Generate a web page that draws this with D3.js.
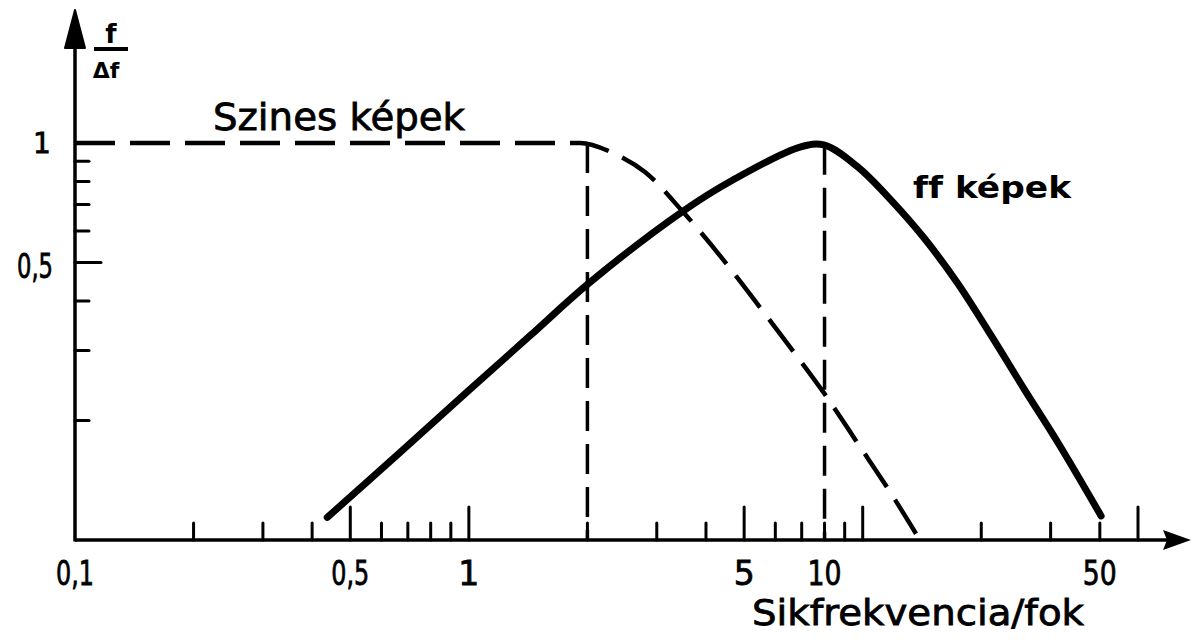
<!DOCTYPE html>
<html>
<head>
<meta charset="utf-8">
<script src="https://cdn.jsdelivr.net/npm/d3@7"></script>
<style>
  html, body { margin: 0; padding: 0; background: #fff; }
  svg { display: block; }
  text {
    font-family: "DejaVu Sans", "Liberation Sans", sans-serif;
    font-variant-ligatures: none;
    fill: #000;
  }
</style>
</head>
<body>
<div id="chart"></div>
<script>
// ff (black & white) image curve
const ffFreq = [0.437, 0.668, 0.99, 1.43, 2.02, 3.5, 4.68, 6.93, 7.97, 9.72, 11.8, 14.3, 17.4, 21.2, 25.7, 31.3, 40.3];
const ffGain = [0.114, 0.166, 0.236, 0.327, 0.444, 0.674, 0.807, 0.977, 0.989, 0.87, 0.718, 0.577, 0.444, 0.327, 0.24, 0.176, 0.115];

// colour image curve (dashed)
const colorFreq = [0.1, 1.915, 2.32, 2.8, 3.5, 4.6, 5.48, 6.54, 8.06, 9.72, 11.8, 13.97];
const colorGain = [1, 1, 0.944, 0.845, 0.67, 0.484, 0.386, 0.306, 0.231, 0.175, 0.131, 0.1];

// vertical guide lines (knee of colour curve, peak of ff curve)
const guideFreq = [2, 8];
const guideGain = [1, 0.99];

// axis ticks
const xTicks = [0.2, 0.3, 0.4, 0.5, 0.6, 0.7, 0.8, 0.9, 1, 2, 3, 4, 5, 6, 7, 8, 9, 10, 20, 30, 40, 50];
const xMajor = [0.5, 1, 5, 10, 50];
const xTickLabels = ['0,1', '0,5', '1', '5', '10', '50'];
const xTickLabelAt = [0.1, 0.5, 1, 5, 8, 40]; // where the printed labels sit
const yTicks = [0.2, 0.3, 0.4, 0.5, 0.6, 0.7, 0.8, 0.9];
const yTickLabels = ['1', '0,5'];
const yTickLabelAt = [1, 0.5];

const seriesLabels = ['Szines képek', 'ff képek'];
const xTitle = 'Sikfrekvencia/fok';

const width = 1191;
const height = 643;

const x = d3.scaleLog().domain([0.1, 50]).range([75, 1138]);
const y = d3.scaleLog().domain([0.1, 1]).range([540, 143]);

const svg = d3.select('#chart')
  .append('svg')
  .attr('width', width)
  .attr('height', height);

const x0 = x(0.1);
const y0 = y(0.1);

// axes lines + arrows
svg.append('line')
  .attr('x1', x0).attr('y1', y0)
  .attr('x2', 1168).attr('y2', y0)
  .attr('stroke', '#000').attr('stroke-width', 3.5);
svg.append('path')
  .attr('d', `M1191,${y0} L1163,${y0 - 10} L1167,${y0} L1163,${y0 + 10} Z`)
  .attr('fill', '#000');

svg.append('line')
  .attr('x1', x0).attr('y1', y0 + 1.5)
  .attr('x2', x0).attr('y2', 40)
  .attr('stroke', '#000').attr('stroke-width', 3.5);
svg.append('path')
  .attr('d', `M${x0},10 L${x0 - 10},48 L${x0 + 10},48 Z`)
  .attr('fill', '#000')
  .attr('stroke', '#000')
  .attr('stroke-linejoin', 'round')
  .attr('stroke-width', 2);

// x ticks
svg.append('g')
  .selectAll('line')
  .data(xTicks)
  .join('line')
  .attr('x1', d => x(d)).attr('x2', d => x(d))
  .attr('y1', y0)
  .attr('y2', d => y0 - (xMajor.includes(d) ? 33 : 17))
  .attr('stroke', '#000')
  .attr('stroke-width', 3)
  .attr('stroke-linecap', 'round');

// y ticks
svg.append('g')
  .selectAll('line')
  .data(yTicks)
  .join('line')
  .attr('x1', x0).attr('x2', d => x0 + (d === 0.5 ? 26 : 14))
  .attr('y1', d => y(d)).attr('y2', d => y(d))
  .attr('stroke', '#000')
  .attr('stroke-width', 3)
  .attr('stroke-linecap', 'round');

// x tick labels
svg.append('g')
  .selectAll('text')
  .data(xTickLabels)
  .join('text')
  .attr('x', (d, i) => x(xTickLabelAt[i]))
  .attr('y', 585)
  .attr('text-anchor', 'middle')
  .attr('font-size', 33)
  .attr('stroke', '#000')
  .attr('stroke-width', 0.8)
  .attr('textLength', d => d.length > 1 ? (d.includes(',') ? 38 : 34) : null)
  .attr('lengthAdjust', 'spacingAndGlyphs')
  .text(d => d);

// y tick labels
svg.append('g')
  .selectAll('text')
  .data(yTickLabels)
  .join('text')
  .attr('x', (d, i) => i === 0 ? 42 : 35)
  .attr('y', (d, i) => y(yTickLabelAt[i]) + (i === 0 ? 10 : 15))
  .attr('text-anchor', 'middle')
  .attr('font-size', (d, i) => i === 0 ? 28 : 33)
  .attr('stroke', '#000')
  .attr('stroke-width', 0.8)
  .attr('textLength', d => d.length > 1 ? 36 : null)
  .attr('lengthAdjust', 'spacingAndGlyphs')
  .text(d => d);

// y axis label f / Δf
svg.append('text')
  .attr('x', 111).attr('y', 43)
  .attr('text-anchor', 'middle')
  .attr('font-size', 26)
  .attr('font-weight', 'bold')
  .text('f');
svg.append('line')
  .attr('x1', 94).attr('x2', 128)
  .attr('y1', 49).attr('y2', 49)
  .attr('stroke', '#000').attr('stroke-width', 4);
svg.append('text')
  .attr('x', 106).attr('y', 78)
  .attr('text-anchor', 'middle')
  .attr('font-size', 22)
  .attr('font-weight', 'bold')
  .text('Δf');

// guide lines
svg.append('g')
  .selectAll('line')
  .data(guideFreq)
  .join('line')
  .attr('x1', d => x(d)).attr('x2', d => x(d))
  .attr('y1', (d, i) => y(guideGain[i]))
  .attr('y2', y0)
  .attr('stroke', '#000')
  .attr('stroke-width', 3.5)
  .attr('stroke-dasharray', '30 13');

const line = d3.line()
  .x(d => x(d[0]))
  .y(d => y(d[1]));

// colour images (dashed) - monotone keeps the flat part flat
svg.append('path')
  .datum(colorFreq.map((f, i) => [f, colorGain[i]]))
  .attr('d', line.curve(d3.curveMonotoneX))
  .attr('fill', 'none')
  .attr('stroke', '#000')
  .attr('stroke-width', 4.5)
  .attr('stroke-dasharray', '40 15');

// ff images (solid)
svg.append('path')
  .datum(ffFreq.map((f, i) => [f, ffGain[i]]))
  .attr('d', line.curve(d3.curveCatmullRom.alpha(0.5)))
  .attr('fill', 'none')
  .attr('stroke', '#000')
  .attr('stroke-width', 7)
  .attr('stroke-linecap', 'round')
  .attr('stroke-linejoin', 'round');

// series labels
svg.append('text')
  .attr('x', 213).attr('y', 130)
  .attr('font-size', 38)
  .attr('stroke', '#000').attr('stroke-width', 0.8)
  .attr('textLength', 252)
  .attr('lengthAdjust', 'spacingAndGlyphs')
  .text(seriesLabels[0]);

svg.append('text')
  .attr('x', 913).attr('y', 198)
  .attr('font-size', 31)
  .attr('font-weight', 'bold')
  .attr('textLength', 158)
  .attr('lengthAdjust', 'spacingAndGlyphs')
  .text(seriesLabels[1]);

// x axis title
svg.append('text')
  .attr('x', 752).attr('y', 625)
  .attr('font-size', 36)
  .attr('stroke', '#000').attr('stroke-width', 0.8)
  .attr('textLength', 332)
  .attr('lengthAdjust', 'spacingAndGlyphs')
  .text(xTitle);
</script>
</body>
</html>
